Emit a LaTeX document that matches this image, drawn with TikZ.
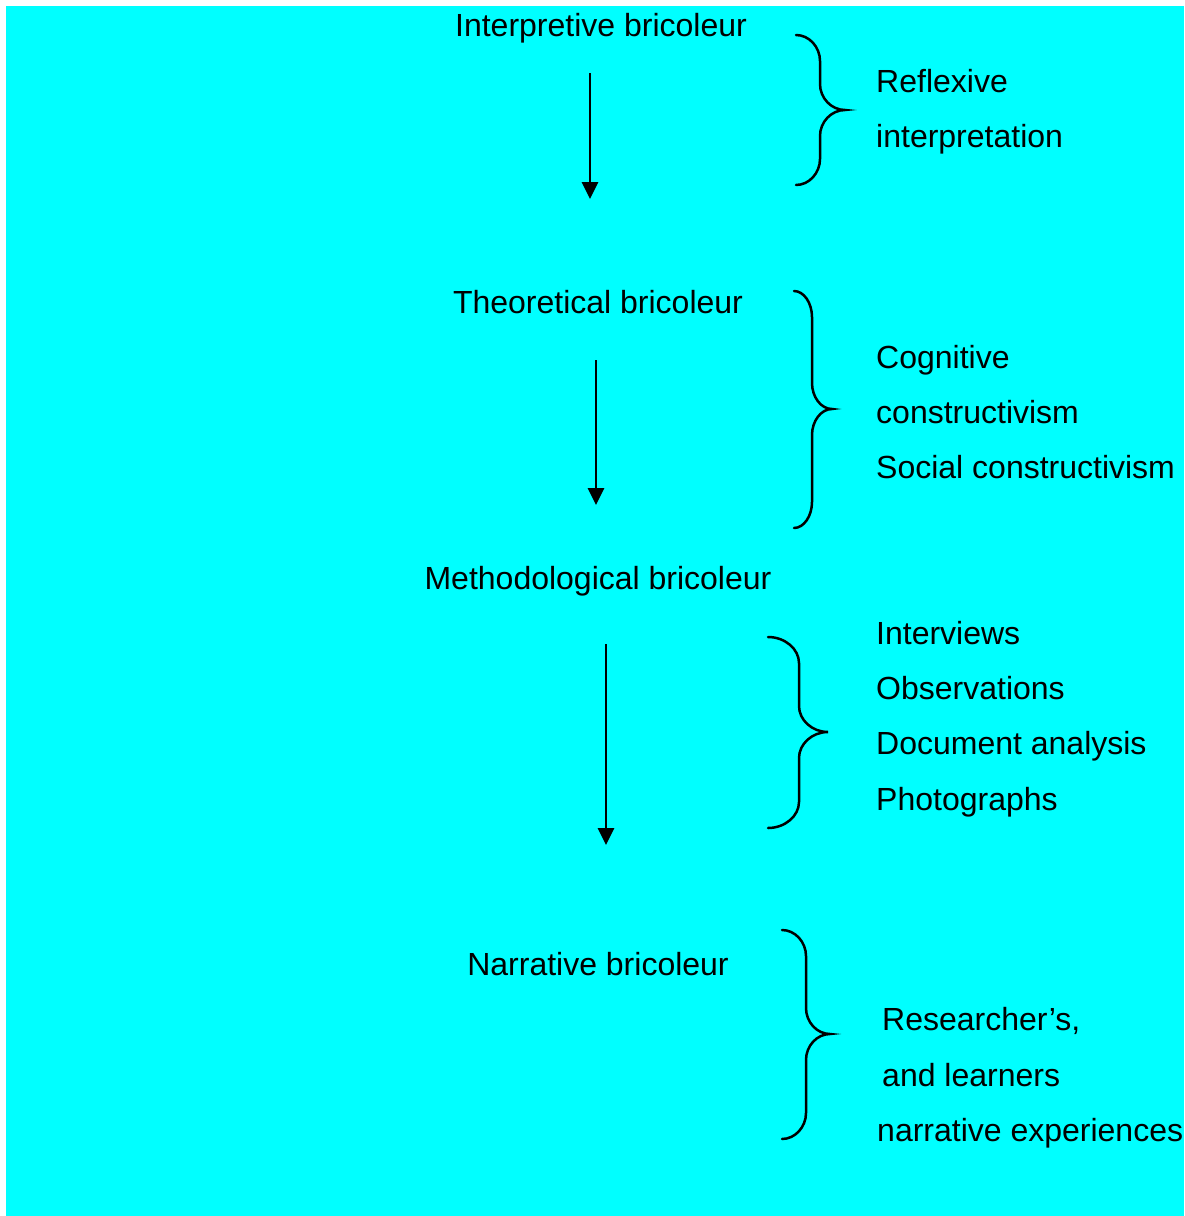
\documentclass[tikz,border=0pt]{standalone}
\usepackage{fontspec}
\setmainfont{Liberation Sans}
\usetikzlibrary{arrows.meta}
\definecolor{bgcyan}{RGB}{0,255,255}
\begin{document}
\begin{tikzpicture}[x=1pt,y=-1pt,
  lbl/.style={inner sep=0pt,font=\fontsize{32}{38}\selectfont,text=black},
  stage/.style={lbl,anchor=base},
  item/.style={lbl,anchor=base west},
  flow/.style={line width=2.7pt,-{Triangle[length=17pt,width=16pt]}},
  bracepath/.style={line width=2.5pt,line cap=round}]
% page and cyan panel
\useasboundingbox (0,0) rectangle (1184,1216);
\fill[white] (0,0) rectangle (1184,1216);
\fill[bgcyan] (6,6) rectangle (1184,1216);

% a curly brace: top end (x0,yt), spine x1, tip (x2,ym), bottom end (x0,yb)
\newcommand{\curlybrace}[6]{%
  \draw[bracepath] (#1,#2)
    .. controls ({#1+0.55*(#3-#1)},#2) and (#3,#2+12) .. (#3,#2+26)
    -- (#3,#5-26)
    .. controls (#3,#5-12) and ({#3+0.45*(#4-#3)},#5) .. (#4,#5)
    .. controls ({#3+0.45*(#4-#3)},#5) and (#3,#5+12) .. (#3,#5+26)
    -- (#3,#6-26)
    .. controls (#3,#6-12) and ({#1+0.55*(#3-#1)},#6) .. (#1,#6);}

% stages
\node[stage] (interp) at (601,36) {Interpretive bricoleur};
\node[stage] (theor) at (598,313) {Theoretical bricoleur};
\node[stage] (method) at (598,589) {Methodological bricoleur};
\node[stage] (narr) at (598,975) {Narrative bricoleur};

% arrows between stages
\coordinate (a1s) at (590,73);  \coordinate (a1e) at (590,199);
\coordinate (a2s) at (596,360); \coordinate (a2e) at (596,505);
\coordinate (a3s) at (606,644); \coordinate (a3e) at (606,845);
\draw[flow] (a1s) -- (a1e);
\draw[flow] (a2s) -- (a2e);
\draw[flow] (a3s) -- (a3e);

% braces
\curlybrace{796}{35}{820}{845}{110}{185}
\curlybrace{794}{291}{812}{832}{409}{528}
\curlybrace{768}{637}{799}{828}{732}{828}
\curlybrace{782}{930}{806}{830}{1034}{1139}

% items
\node[item] (r1) at (876,92) {Reflexive};
\node[item] (r2) at (876,147) {interpretation};
\node[item] (t1) at (876,368) {Cognitive};
\node[item] (t2) at (876,423) {constructivism};
\node[item] (t3) at (876,478) {Social constructivism};
\node[item] (m1) at (876,644) {Interviews};
\node[item] (m2) at (876,699) {Observations};
\node[item] (m3) at (876,754) {Document analysis};
\node[item] (m4) at (876,810) {Photographs};
\node[item] (n1) at (882,1030) {Researcher’s,};
\node[item] (n2) at (882,1086) {and learners};
\node[item] (n3) at (877,1141) {narrative experiences};
\end{tikzpicture}
\end{document}
